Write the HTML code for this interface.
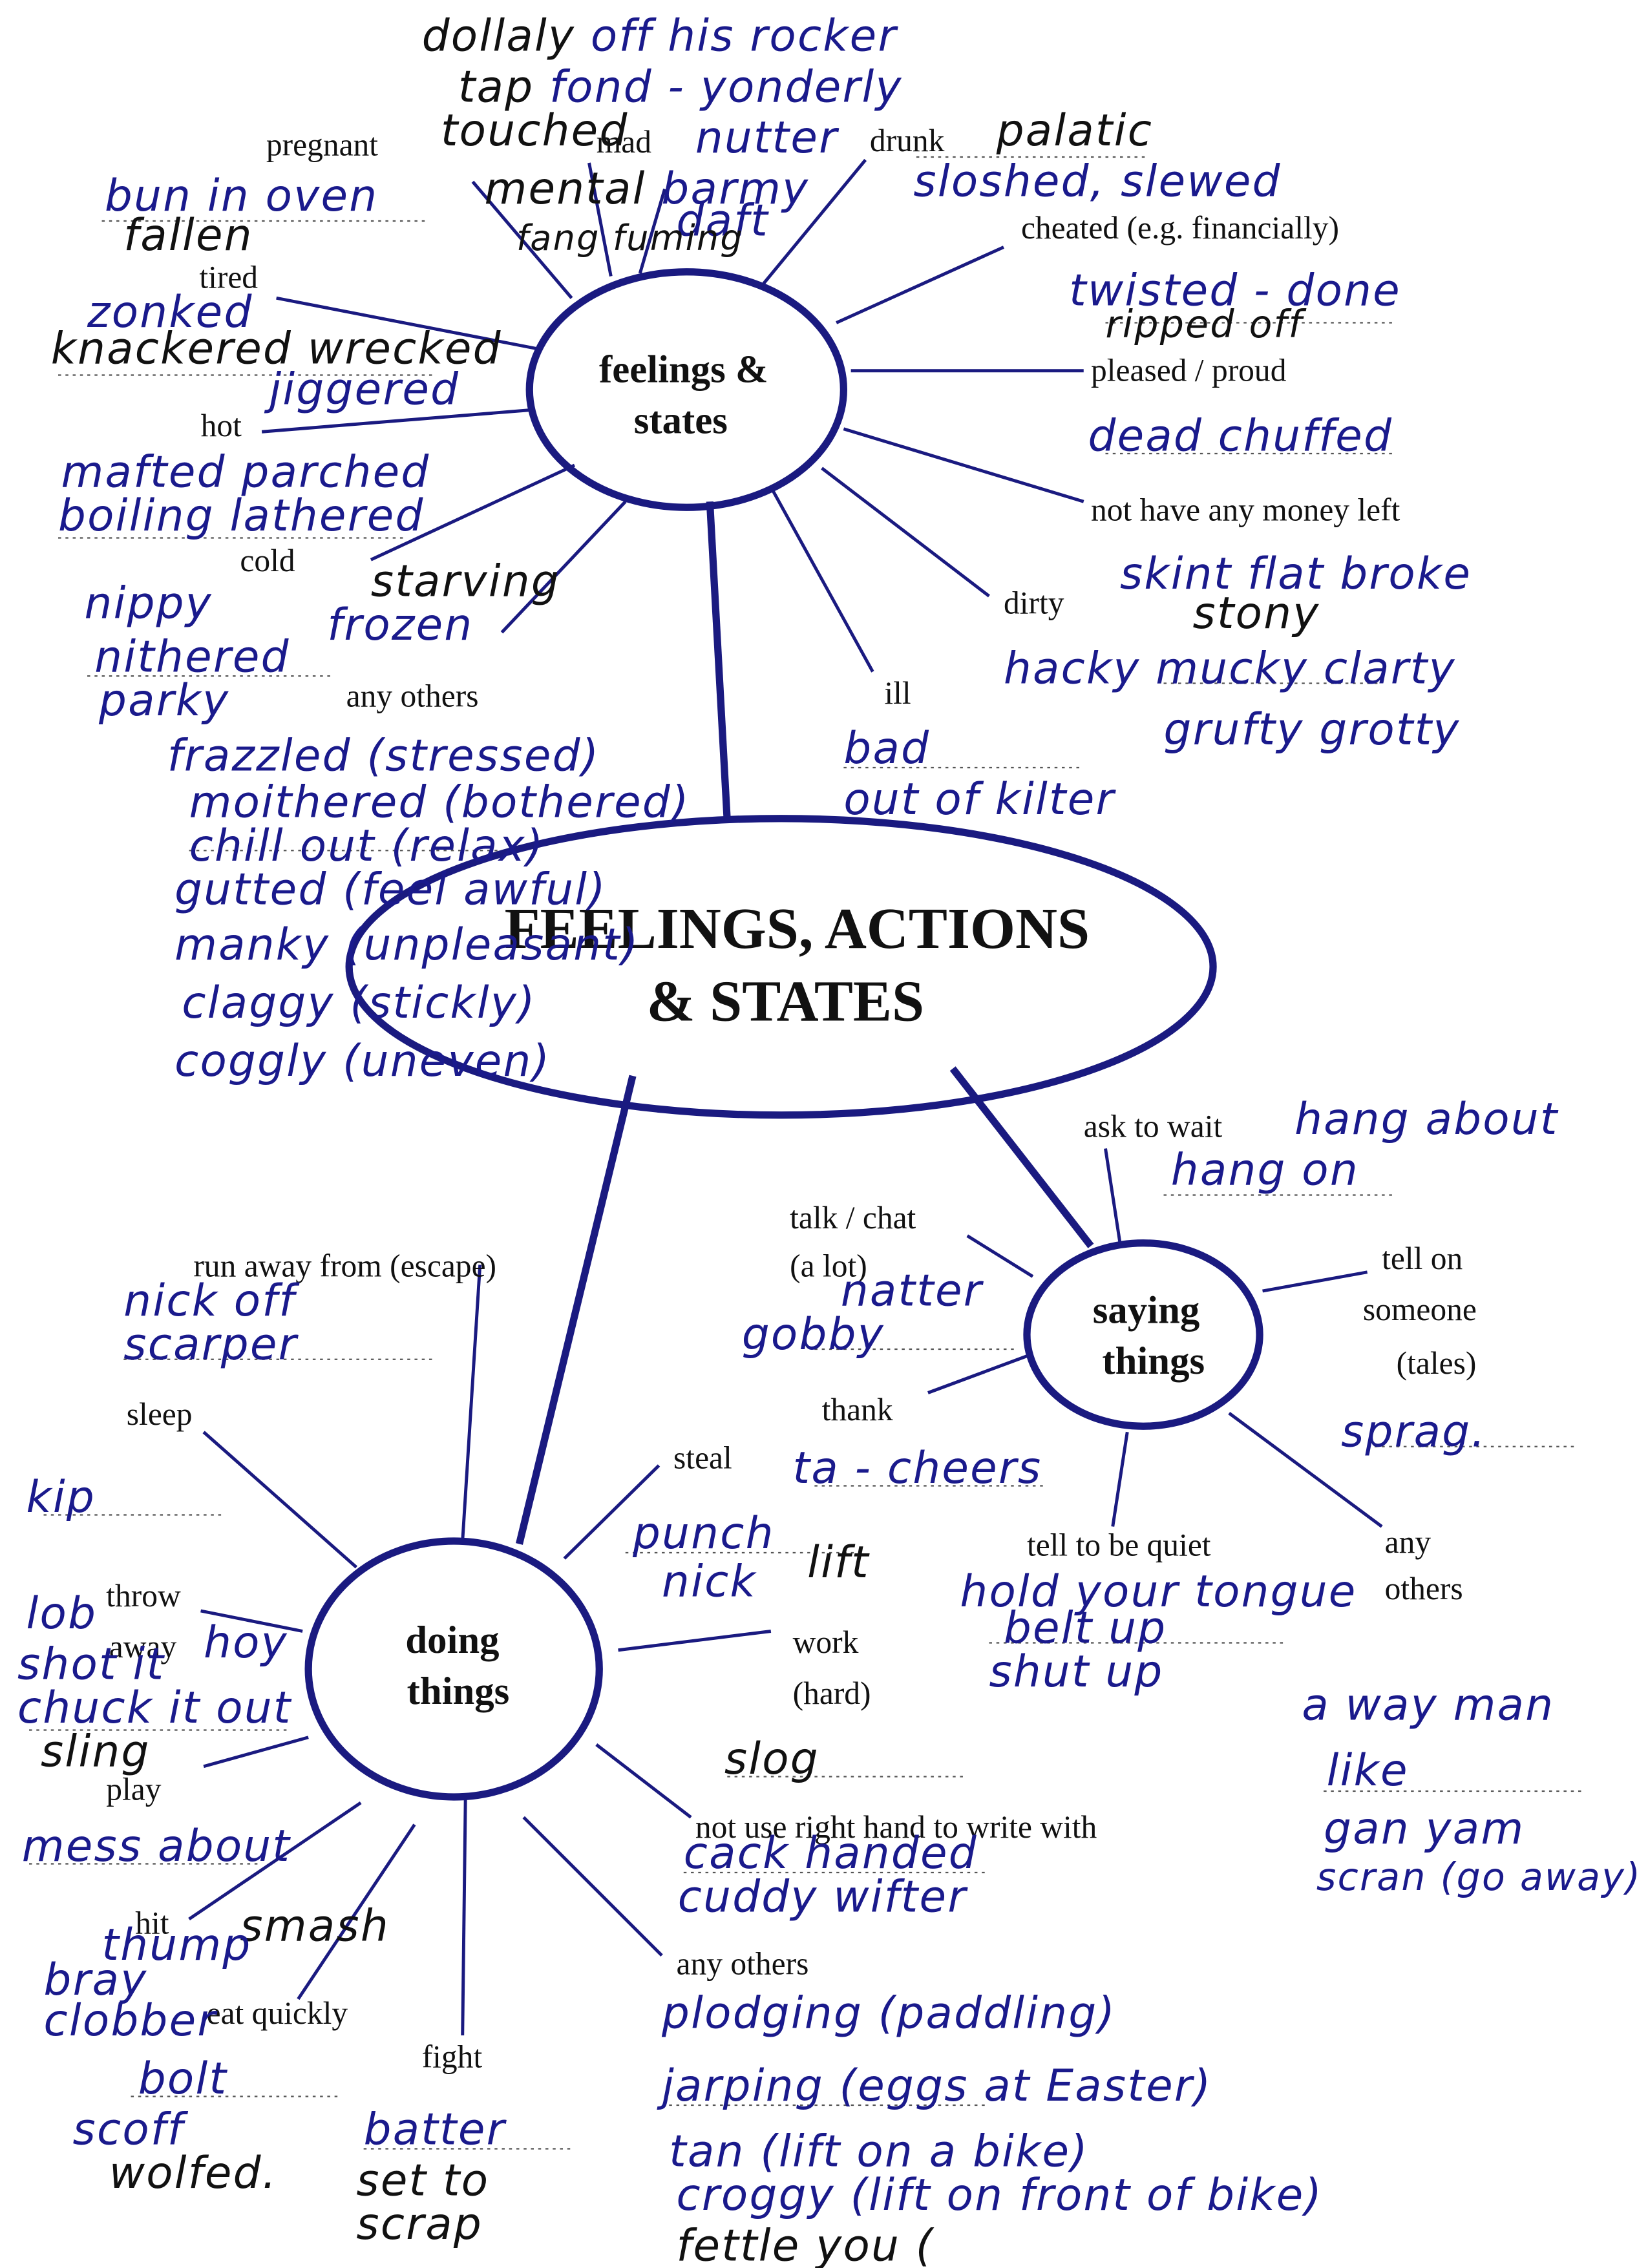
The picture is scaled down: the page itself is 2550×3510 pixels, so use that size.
<!DOCTYPE html>
<html><head><meta charset="utf-8"><style>
html,body{margin:0;padding:0;background:#fff;}
svg{display:block;}
.p{font-family:"Liberation Serif",serif;font-size:22px;fill:#111;}
.b{font-family:"Liberation Serif",serif;font-weight:bold;fill:#111;text-anchor:middle;}
.h{font-family:"DejaVu Sans",sans-serif;font-style:italic;font-size:30px;fill:#1a1a8c;letter-spacing:1px;}
.k{fill:#111;}
.s{stroke:#1a1a80;stroke-width:2.2;fill:none;}
.t{stroke:#1a1a80;stroke-width:5;fill:none;}
.d{stroke:#555;stroke-width:1;stroke-dasharray:2 3;fill:none;}
</style></head><body>
<svg width="2550" height="3510" viewBox="0 0 1133 1560" preserveAspectRatio="none" xmlns="http://www.w3.org/2000/svg">
<rect width="1133" height="1560" fill="#fff"/>
<!-- thick connectors -->
<line class="t" x1="488" y1="345" x2="500" y2="565"/>
<line class="t" x1="435" y1="740" x2="357" y2="1062"/>
<line class="t" x1="655" y1="735" x2="750" y2="857"/>
<!-- feelings spokes -->
<g class="s">
<line x1="393" y1="205" x2="325" y2="125"/>
<line x1="420" y1="190" x2="405" y2="112"/>
<line x1="440" y1="188" x2="457" y2="130"/>
<line x1="525" y1="195" x2="595" y2="110"/>
<line x1="575" y1="222" x2="690" y2="170"/>
<line x1="585" y1="255" x2="745" y2="255"/>
<line x1="580" y1="295" x2="745" y2="345"/>
<line x1="565" y1="322" x2="680" y2="410"/>
<line x1="530" y1="335" x2="600" y2="462"/>
<line x1="430" y1="345" x2="345" y2="435"/>
<line x1="395" y1="320" x2="255" y2="385"/>
<line x1="365" y1="282" x2="180" y2="297"/>
<line x1="370" y1="240" x2="190" y2="205"/>
<!-- saying -->
<line x1="770" y1="855" x2="760" y2="790"/>
<line x1="710" y1="878" x2="665" y2="850"/>
<line x1="868" y1="888" x2="940" y2="875"/>
<line x1="708" y1="932" x2="638" y2="958"/>
<line x1="775" y1="985" x2="765" y2="1050"/>
<line x1="845" y1="972" x2="950" y2="1050"/>
<!-- doing -->
<line x1="318" y1="1060" x2="330" y2="870"/>
<line x1="245" y1="1078" x2="140" y2="985"/>
<line x1="208" y1="1122" x2="138" y2="1108"/>
<line x1="212" y1="1195" x2="140" y2="1215"/>
<line x1="248" y1="1240" x2="130" y2="1320"/>
<line x1="285" y1="1255" x2="205" y2="1375"/>
<line x1="320" y1="1237" x2="318" y2="1400"/>
<line x1="360" y1="1250" x2="455" y2="1345"/>
<line x1="410" y1="1200" x2="475" y2="1250"/>
<line x1="425" y1="1135" x2="530" y2="1122"/>
<line x1="388" y1="1072" x2="453" y2="1008"/>
</g>
<!-- dotted writing lines -->
<g class="d">
<line x1="70" y1="152" x2="295" y2="152"/><line x1="40" y1="258" x2="300" y2="258"/>
<line x1="40" y1="370" x2="280" y2="370"/><line x1="60" y1="465" x2="230" y2="465"/>
<line x1="130" y1="585" x2="360" y2="585"/><line x1="760" y1="312" x2="960" y2="312"/>
<line x1="760" y1="222" x2="960" y2="222"/><line x1="630" y1="108" x2="790" y2="108"/>
<line x1="800" y1="470" x2="950" y2="470"/><line x1="580" y1="528" x2="745" y2="528"/>
<line x1="800" y1="822" x2="960" y2="822"/><line x1="560" y1="928" x2="700" y2="928"/>
<line x1="560" y1="1022" x2="720" y2="1022"/><line x1="940" y1="995" x2="1085" y2="995"/>
<line x1="85" y1="935" x2="300" y2="935"/><line x1="30" y1="1042" x2="155" y2="1042"/>
<line x1="20" y1="1190" x2="200" y2="1190"/><line x1="20" y1="1282" x2="180" y2="1282"/>
<line x1="500" y1="1222" x2="665" y2="1222"/><line x1="470" y1="1288" x2="680" y2="1288"/>
<line x1="430" y1="1068" x2="590" y2="1068"/><line x1="680" y1="1130" x2="885" y2="1130"/>
<line x1="910" y1="1232" x2="1090" y2="1232"/><line x1="90" y1="1442" x2="235" y2="1442"/>
<line x1="250" y1="1478" x2="395" y2="1478"/><line x1="460" y1="1448" x2="680" y2="1448"/>
</g>
<!-- nodes -->
<ellipse class="t" cx="537" cy="665" rx="297" ry="102" fill="#fff"/>
<ellipse class="t" cx="472" cy="268" rx="108" ry="81" fill="#fff"/>
<ellipse class="t" cx="786" cy="918" rx="80" ry="63" fill="#fff"/>
<ellipse class="t" cx="312" cy="1148" rx="100" ry="88" fill="#fff"/>
<text class="b" x="548" y="652" font-size="40">FEELINGS, ACTIONS</text>
<text class="b" x="540" y="702" font-size="40">&amp; STATES</text>
<text class="b" x="470" y="263" font-size="27">feelings &amp;</text>
<text class="b" x="468" y="298" font-size="27">states</text>
<text class="b" x="788" y="910" font-size="27">saying</text>
<text class="b" x="793" y="945" font-size="27">things</text>
<text class="b" x="311" y="1137" font-size="27">doing</text>
<text class="b" x="315" y="1172" font-size="27">things</text>
<!-- printed labels -->
<g class="p">
<text x="183" y="107">pregnant</text><text x="410" y="105">mad</text><text x="598" y="104">drunk</text>
<text x="702" y="164">cheated (e.g. financially)</text><text x="137" y="198">tired</text>
<text x="750" y="262">pleased / proud</text><text x="138" y="300">hot</text>
<text x="750" y="358">not have any money left</text><text x="165" y="393">cold</text>
<text x="690" y="422">dirty</text><text x="238" y="486">any others</text><text x="608" y="484">ill</text>
<text x="745" y="782">ask to wait</text><text x="543" y="845">talk / chat</text><text x="543" y="878">(a lot)</text>
<text x="950" y="873">tell on</text><text x="937" y="908">someone</text><text x="960" y="945">(tales)</text>
<text x="133" y="878">run away from (escape)</text><text x="565" y="977">thank</text>
<text x="87" y="980">sleep</text><text x="463" y="1010">steal</text><text x="706" y="1070">tell to be quiet</text>
<text x="952" y="1068">any</text><text x="952" y="1100">others</text>
<text x="73" y="1105">throw</text><text x="75" y="1140">away</text>
<text x="545" y="1137">work</text><text x="545" y="1172">(hard)</text><text x="73" y="1238">play</text>
<text x="478" y="1264">not use right hand to write with</text><text x="93" y="1330">hit</text>
<text x="465" y="1358">any others</text><text x="142" y="1392">eat quickly</text><text x="290" y="1422">fight</text>
</g>
<!-- handwritten -->
<g class="h">
<text x="290" y="35"><tspan class="k">dollaly</tspan> off his rocker</text>
<text x="315" y="70"><tspan class="k">tap</tspan> fond - yonderly</text>
<text x="303" y="100" class="k">touched</text><text x="478" y="105">nutter</text>
<text x="333" y="140"><tspan class="k">mental</tspan> barmy</text><text x="465" y="162">daft</text>
<text x="355" y="172" class="k" font-size="24">fang fuming</text>
<text x="72" y="145">bun in oven</text><text x="85" y="172" class="k">fallen</text>
<text x="685" y="100" class="k">palatic</text><text x="628" y="135">sloshed, slewed</text>
<text x="60" y="225">zonked</text><text x="35" y="250" class="k">knackered wrecked</text>
<text x="185" y="278">jiggered</text>
<text x="735" y="210">twisted - done</text><text x="760" y="232" class="k" font-size="26">ripped off</text>
<text x="748" y="310">dead chuffed</text>
<text x="42" y="335">mafted parched</text><text x="40" y="365">boiling lathered</text>
<text x="255" y="410" class="k">starving</text><text x="225" y="440">frozen</text>
<text x="58" y="425">nippy</text><text x="65" y="462">nithered</text><text x="68" y="492">parky</text>
<text x="770" y="405">skint flat broke</text><text x="820" y="432" class="k">stony</text>
<text x="690" y="470">hacky mucky clarty</text><text x="800" y="512">grufty grotty</text>
<text x="580" y="525">bad</text><text x="580" y="560">out of kilter</text>
<text x="115" y="530">frazzled (stressed)</text><text x="130" y="562">moithered (bothered)</text>
<text x="130" y="592">chill out (relax)</text><text x="120" y="622">gutted (feel awful)</text>
<text x="120" y="660">manky (unpleasant)</text><text x="125" y="700">claggy (stickly)</text>
<text x="120" y="740">coggly (uneven)</text>
<text x="890" y="780">hang about</text><text x="805" y="815">hang on</text>
<text x="578" y="898">natter</text><text x="510" y="928">gobby</text>
<text x="545" y="1020">ta - cheers</text><text x="922" y="995">sprag.</text>
<text x="435" y="1065">punch</text><text x="455" y="1098">nick</text><text x="555" y="1085" class="k">lift</text>
<text x="660" y="1105">hold your tongue</text><text x="690" y="1130">belt up</text><text x="680" y="1160">shut up</text>
<text x="895" y="1183">a way man</text><text x="912" y="1228">like</text>
<text x="910" y="1268">gan yam</text><text x="905" y="1300" font-size="26">scran (go away)</text>
<text x="85" y="905">nick off</text><text x="85" y="935">scarper</text>
<text x="18" y="1040">kip</text>
<text x="18" y="1120">lob</text><text x="12" y="1155">shot it</text><text x="12" y="1185">chuck it out</text>
<text x="140" y="1140">hoy</text><text x="28" y="1215" class="k">sling</text>
<text x="15" y="1280">mess about</text><text x="498" y="1220" class="k">slog</text>
<text x="470" y="1285">cack handed</text><text x="466" y="1315">cuddy wifter</text>
<text x="165" y="1335" class="k">smash</text><text x="70" y="1348">thump</text>
<text x="30" y="1372">bray</text><text x="30" y="1400">clobber</text>
<text x="95" y="1440">bolt</text><text x="50" y="1475">scoff</text><text x="75" y="1505" class="k">wolfed.</text>
<text x="250" y="1475">batter</text><text x="245" y="1510" class="k">set to</text><text x="245" y="1540" class="k">scrap</text>
<text x="455" y="1395">plodging (paddling)</text><text x="455" y="1445">jarping (eggs at Easter)</text>
<text x="460" y="1490">tan (lift on a bike)</text><text x="465" y="1520">croggy (lift on front of bike)</text>
<text x="465" y="1555" class="k">fettle you (</text>
</g>
</svg>
</body></html>
